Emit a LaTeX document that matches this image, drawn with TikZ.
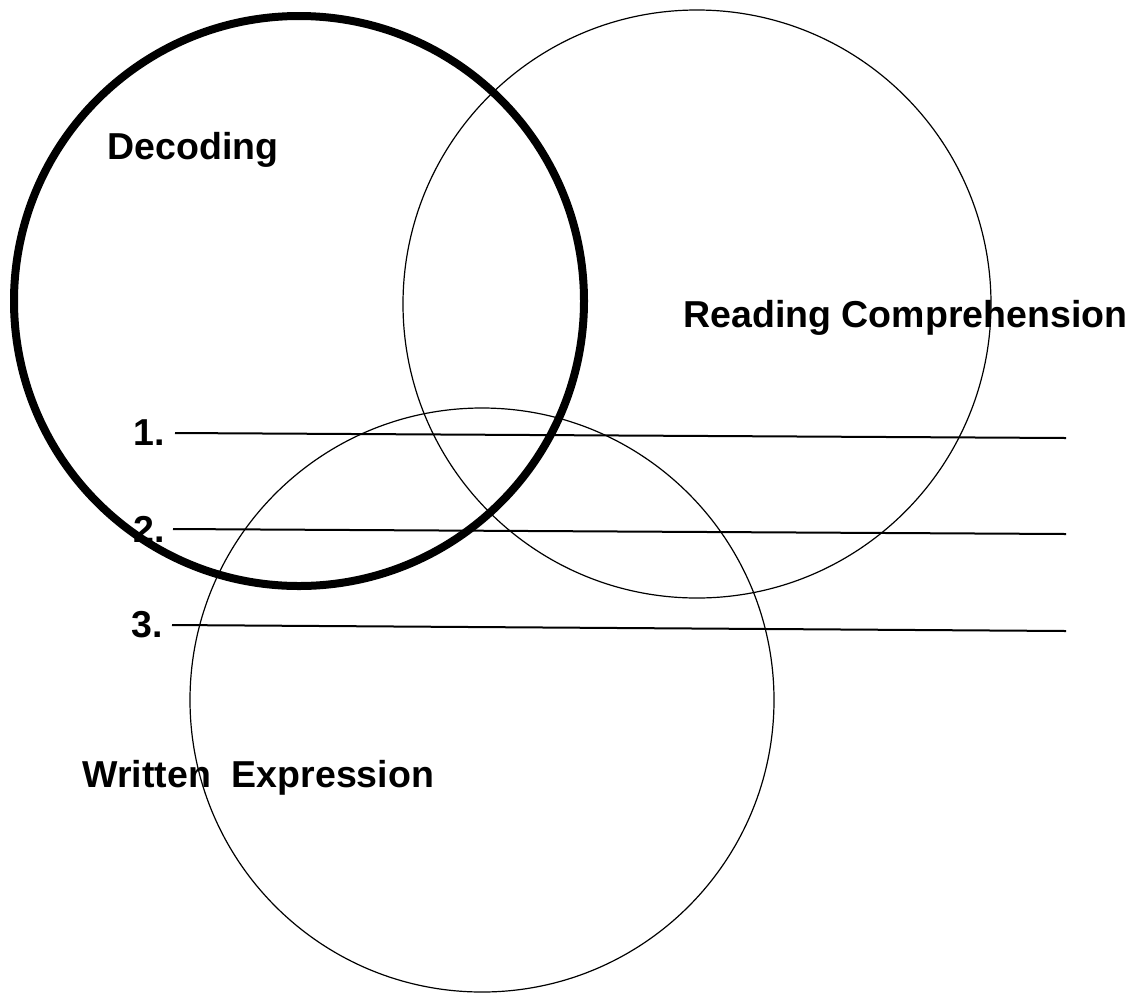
\documentclass[tikz,border=0pt]{standalone}
\usepackage{fontspec}
\setmainfont{Liberation Sans}
\newcommand{\lbl}[1]{\fontsize{37.5}{44}\selectfont\bfseries #1}

\begin{document}
\begin{tikzpicture}[x=1pt,y=-1pt,
	ring/.style = {draw, circle, inner sep = 0pt, line width = 1.2pt},
	blank/.style = {line width = 2pt}]
	\useasboundingbox (0,0) rectangle (1148,994);
	\node[ring, minimum size = 570pt, line width = 8pt] (dec) at (299,301) {};
	\node[ring, minimum size = 588pt] (rc) at (697,304) {};
	\node[ring, minimum size = 584pt] (we) at (482,700) {};
	\node[anchor = west] (tdec) at (104,150) {\lbl{Decoding}};
	\node[anchor = west] (trc) at (680,318) {\lbl{Reading Comprehension}};
	\node[anchor = west] (twe) at (79,778) {\lbl{Written\ \ Expression}};
	\coordinate (a1) at (175,433);	\coordinate (b1) at (1066,438);
	\coordinate (a2) at (173,529);	\coordinate (b2) at (1066,534);
	\coordinate (a3) at (172,625);	\coordinate (b3) at (1066,631);
	\draw[blank] (a1) -- (b1);
	\draw[blank] (a2) -- (b2);
	\draw[blank] (a3) -- (b3);
	\node[anchor = east] (n1) at (a1 -| 168,416) {\lbl{1.}};
	\node[anchor = east] (n2) at (a2 -| 168,514) {\lbl{2.}};
	\node[anchor = east] (n3) at (a3 -| 166,608) {\lbl{3.}};
\end{tikzpicture}
\end{document}
